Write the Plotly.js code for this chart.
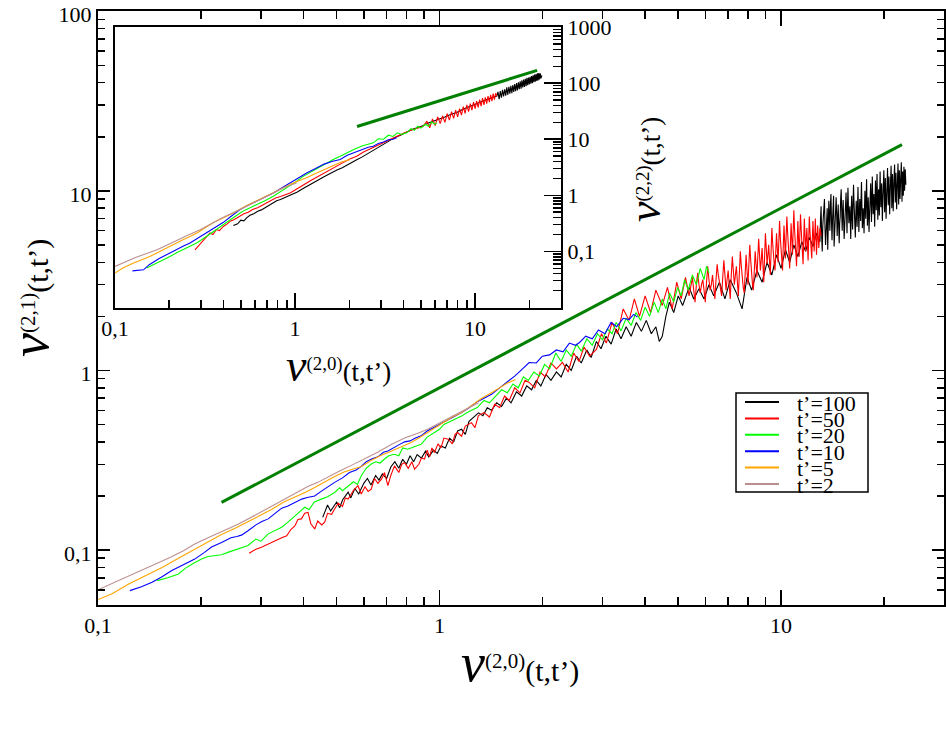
<!DOCTYPE html>
<html><head><meta charset="utf-8">
<script src="https://cdn.plot.ly/plotly-3.0.1.min.js"></script>
<style>html,body{margin:0;padding:0;background:#fff}#plot{width:946px;height:735px}</style>
</head><body><div id="plot"></div>
<script>
// ---------------- DATA ----------------
const LABELS = ["t’=100","t’=50","t’=20","t’=10","t’=5","t’=2"];
const COLORS = ["#000000","#ff0000","#00ff00","#0000ff","#ffa500","#bc8f8f"];
const FIT_COLOR = "#008000";

const XTICKS = [0.1,1,10];
const XTICKTEXT = ["0,1","1","10"];
const XMINOR = [0.2,0.3,0.4,0.5,0.6,0.7,0.8,0.9,2,3,4,5,6,7,8,9,20];
const YTICKS_MAIN = [0.1,1,10,100];
const YTICKTEXT_MAIN = ["0,1","1","10","100"];
const YMINOR_MAIN = [0.06,0.07,0.08,0.09,0.2,0.3,0.4,0.5,0.6,0.7,0.8,0.9,2,3,4,5,6,7,8,9,20,30,40,50,60,70,80,90];
const YTICKS_INSET = [0.1,1,10,100,1000];
const YTICKTEXT_INSET = ["0,1","1","10","100","1000"];
const YMINOR_INSET = [0.02,0.03,0.04,0.05,0.06,0.07,0.08,0.09,0.2,0.3,0.4,0.5,0.6,0.7,0.8,0.9,2,3,4,5,6,7,8,9,20,30,40,50,60,70,80,90,200,300,400,500,600,700,800,900];

// main panel: V(2,1) vs V(2,0)
const main_t100 = [[0.455,0.152],[0.47,0.178],[0.48,0.165],[0.50,0.185],[0.51,0.172],[0.52,0.19],[0.54,0.21],[0.55,0.195],[0.565,0.22],[0.58,0.205],[0.60,0.235],[0.615,0.25],[0.63,0.23],[0.65,0.26],[0.665,0.245],[0.68,0.265],[0.70,0.25],[0.72,0.29],[0.74,0.31],[0.76,0.285],[0.78,0.32],[0.80,0.30],[0.82,0.335],[0.84,0.31],[0.86,0.34],[0.885,0.325],[0.91,0.355],[0.93,0.33],[0.96,0.36],[0.985,0.345],[1.01,0.38],[1.04,0.37],[1.07,0.42],[1.10,0.40],[1.13,0.46],[1.16,0.47],[1.19,0.44],[1.22,0.52],[1.26,0.55],[1.30,0.58],[1.34,0.56],[1.38,0.62],[1.42,0.60],[1.47,0.66],[1.52,0.63],[1.57,0.70],[1.62,0.66],[1.68,0.76],[1.74,0.72],[1.80,0.82],[1.86,0.78],[1.92,0.88],[1.98,0.82],[2.05,0.95],[2.12,0.88],[2.20,0.98],[2.27,0.92],[2.35,1.08],[2.43,1.0],[2.52,1.2],[2.60,1.1],[2.70,1.3],[2.78,1.18],[2.88,1.45],[2.97,1.32],[3.07,1.55],[3.18,1.4],[3.29,1.7],[3.40,1.5],[3.52,1.75],[3.64,1.55],[3.77,1.85],[3.90,1.65],[4.03,1.9],[4.17,1.6],[4.30,1.75],[4.40,1.45],[4.49,1.55],[4.6,2.0],[4.71,2.4],[4.85,2.1],[5.0,2.6],[5.15,2.3],[5.38,2.9],[5.55,2.5],[5.75,2.85],[5.95,2.5],[6.15,3.0],[6.35,2.6],[6.6,3.1],[6.85,2.5],[7.1,3.2],[7.4,2.7],[7.69,2.2],[7.95,3.3],[8.2,2.8],[8.5,3.6],[8.8,3.1],[9.1,4.0],[9.4,3.4],[9.7,4.4],[10.0,3.7],[10.3,4.7],[10.6,4.0],[10.9,5.0],[11.2,4.3],[11.5,5.2],[11.8,4.6],[12.1,5.5],[12.4,4.9],[12.7,5.8],
[13.0,5.2],[13.05,7.0],[13.1,8.2],[13.15,5.6],[13.2,4.6],[13.25,6.4],[13.3,7.6],[13.35,8.6],[13.4,9.0],[13.45,6.2],[13.5,5.0],[13.55,5.8],[13.6,6.8],[13.65,8.0],[13.7,4.7],[13.75,6.9],[13.8,8.8],[13.85,7.2],[13.9,6.0],[13.95,8.4],
[14.0,9.6],[14.05,6.8],[14.1,5.3],[14.15,6.9],[14.2,7.9],[14.25,9.4],[14.3,4.9],[14.35,5.9],[14.4,6.5],[14.45,8.0],[14.5,9.2],[14.55,7.4],[14.6,5.6],[14.65,7.0],[14.7,8.4],[14.75,6.3],[14.8,5.1],[14.85,6.6],[14.9,7.2],[14.95,9.1],
[15.0,10.2],[15.05,7.9],[15.1,6.0],[15.15,7.5],[15.2,8.9],[15.25,6.9],[15.3,5.4],[15.35,6.2],[15.4,7.0],[15.45,8.6],[15.5,9.8],[15.55,7.6],[15.6,5.8],[15.65,8.2],[15.7,10.4],[15.75,8.0],[15.8,6.6],[15.85,7.4],[15.9,8.2],[15.95,6.5],
[16.0,5.4],[16.05,7.8],[16.1,9.4],[16.15,7.0],[16.2,6.1],[16.25,8.6],[16.3,10.8],[16.35,8.8],[16.4,7.2],[16.45,6.2],[16.5,5.5],[16.55,7.2],[16.6,8.8],[16.65,7.4],[16.7,6.3],[16.75,8.4],[16.8,10.5],[16.85,7.6],[16.9,5.9],[16.95,7.5],
[17.0,9.0],[17.05,7.8],[17.1,6.8],[17.15,9.0],[17.2,11.2],[17.25,8.3],[17.3,6.2],[17.35,7.0],[17.4,8.0],[17.45,6.8],[17.5,5.8],[17.55,7.8],[17.6,10.0],[17.65,8.2],[17.7,7.0],[17.75,9.3],[17.8,11.6],[17.85,8.6],[17.9,6.4],[17.95,7.7],
[18.0,9.2],[18.05,7.2],[18.1,5.9],[18.15,7.1],[18.2,8.5],[18.25,9.9],[18.3,11.0],[18.35,8.5],[18.4,6.7],[18.45,9.2],[18.5,12.0],[18.55,9.4],[18.6,7.4],[18.65,8.4],[18.7,9.6],[18.75,7.8],[18.8,6.3],[18.85,8.8],[18.9,11.4],[18.95,9.4],
[19.0,7.8],[19.05,10.0],[19.1,12.4],[19.15,9.2],[19.2,6.9],[19.25,8.4],[19.3,10.2],[19.35,8.6],[19.4,7.3],[19.45,10.0],[19.5,12.8],[19.55,10.2],[19.6,8.1],[19.65,9.6],[19.7,11.0],[19.75,8.8],[19.8,6.8],[19.85,8.3],[19.9,10.0],[19.95,11.6],
[20.0,13.0],[20.05,10.0],[20.1,7.6],[20.15,9.6],[20.2,11.8],[20.25,9.2],[20.3,7.0],[20.35,8.4],[20.4,9.8],[20.45,11.8],[20.5,13.4],[20.55,10.6],[20.6,8.3],[20.65,10.2],[20.7,12.0],[20.75,9.6],[20.8,7.4],[20.85,9.0],[20.9,10.6],[20.95,12.4],
[21.0,13.8],[21.05,10.8],[21.1,8.0],[21.15,10.2],[21.2,12.4],[21.25,9.8],[21.3,7.7],[21.35,9.4],[21.4,11.0],[21.45,12.6],[21.5,14.0],[21.55,11.2],[21.6,8.6],[21.65,10.6],[21.7,12.6],[21.75,10.0],[21.8,7.9],[21.85,9.2],[21.9,10.8],[21.95,12.6],
[22.0,14.2],[22.05,11.0],[22.1,8.4],[22.15,10.6],[22.2,13.0],[22.25,11.0],[22.3,9.0],[22.35,10.2],[22.4,11.6],[22.45,13.0],[22.5,14.4],[22.55,11.4],[22.6,8.7],[22.65,10.8],[22.7,12.8],[22.75,11.0],[22.8,9.4],[22.85,11.4],[22.9,13.6],[22.95,11.8],
[23.0,10.0],[23.05,11.6],[23.1,13.2],[23.15,12.0],[23.2,10.8]];
const main_t50 = [[0.277,0.096],[0.29,0.101],[0.301,0.1035],[0.315,0.108],[0.33,0.113],[0.345,0.117],[0.357,0.12],[0.367,0.13],[0.377,0.136],[0.385,0.148],[0.394,0.149],[0.403,0.16],[0.412,0.162],[0.42,0.14],[0.431,0.131],[0.44,0.145],[0.452,0.138],[0.461,0.143],[0.47,0.16],[0.483,0.158],[0.493,0.169],[0.505,0.182],[0.52,0.175],[0.53,0.195],[0.54,0.192],[0.56,0.215],[0.577,0.228],[0.59,0.205],[0.605,0.225],[0.618,0.212],[0.631,0.218],[0.645,0.25],[0.66,0.235],[0.676,0.248],[0.69,0.27],[0.706,0.228],[0.72,0.26],[0.738,0.294],[0.76,0.27],[0.775,0.3],[0.79,0.307],[0.81,0.285],[0.83,0.31],[0.845,0.282],[0.87,0.3],[0.885,0.325],[0.904,0.321],[0.92,0.36],[0.935,0.33],[0.95,0.37],[0.966,0.349],[0.99,0.39],[1.01,0.37],[1.03,0.42],[1.06,0.414],[1.09,0.39],[1.11,0.44],[1.13,0.451],[1.16,0.43],[1.19,0.49],[1.24,0.512],[1.27,0.48],[1.3,0.56],[1.35,0.582],[1.4,0.55],[1.45,0.647],[1.5,0.62],[1.55,0.72],[1.6,0.68],[1.66,0.8],[1.72,0.75],[1.78,0.88],[1.83,0.857],[1.9,0.8],[1.97,0.98],[2.04,0.92],[2.12,1.1],[2.2,1.02],[2.29,1.107],[2.38,0.98],[2.47,1.25],[2.56,1.12],[2.65,1.35],[2.75,1.2],[2.88,1.31],[2.98,1.6],[3.08,1.42],[3.2,1.85],[3.32,1.6],[3.45,2.2],[3.59,1.9],[3.72,2.5],[3.85,2.0],[4.0,2.6],[4.15,2.1],[4.3,2.8],[4.49,2.3],[4.65,2.9],[4.8,2.2],[4.95,3.1],[5.1,2.5],[5.25,3.3],[5.38,2.6],
[5.5,3.3],[5.55,2.8],[5.6,2.4],[5.65,3.0],[5.7,3.5],[5.75,3.0],[5.8,2.7],[5.85,3.0],[5.9,3.2],[5.95,2.8],[6.0,2.4],[6.05,3.1],[6.1,3.8],[6.15,3.2],[6.2,2.8],[6.25,3.0],[6.3,3.4],[6.35,2.9],[6.4,2.5],[6.45,3.2],
[6.5,3.9],[6.55,3.4],[6.6,3.1],[6.65,2.8],[6.7,2.6],[6.75,3.3],[6.8,4.1],[6.85,3.4],[6.9,2.8],[6.95,3.2],[7.0,3.6],[7.05,3.0],[7.1,2.5],[7.15,3.4],[7.2,4.3],[7.25,3.6],[7.3,3.0],[7.35,3.4],[7.4,3.8],[7.45,3.1],
[7.5,2.6],[7.55,3.5],[7.6,4.6],[7.65,3.8],[7.7,3.2],[7.75,2.9],[7.8,2.7],[7.85,3.5],[7.9,4.4],[7.95,3.6],[8.0,3.0],[8.05,3.9],[8.1,5.0],[8.15,4.1],[8.2,3.4],[8.25,3.0],[8.3,2.8],[8.35,3.6],[8.4,4.6],[8.45,3.9],
[8.5,3.3],[8.55,4.3],[8.6,5.4],[8.65,4.4],[8.7,3.6],[8.75,4.1],[8.8,4.8],[8.85,3.9],[8.9,3.1],[8.95,4.3],[9.0,5.8],[9.05,4.8],[9.1,3.9],[9.15,4.4],[9.2,5.0],[9.25,4.1],[9.3,3.4],[9.35,4.6],[9.4,6.2],[9.45,5.1],
[9.5,4.2],[9.55,3.9],[9.6,3.6],[9.65,4.6],[9.7,5.8],[9.75,4.8],[9.8,4.0],[9.85,5.2],[9.9,6.8],[9.95,5.5],[10.0,4.5],[10.05,4.0],[10.1,3.6],[10.15,4.9],[10.2,6.4],[10.25,5.2],[10.3,4.2],[10.35,5.6],[10.4,7.2],[10.45,5.9],
[10.5,4.8],[10.55,4.2],[10.6,3.7],[10.65,5.0],[10.7,6.6],[10.75,5.4],[10.8,4.4],[10.85,5.9],[10.9,7.8],[10.95,6.2],[11.0,5.0],[11.05,4.3],[11.1,3.8],[11.15,5.1],[11.2,6.8],[11.25,5.4],[11.3,4.3],[11.35,5.7],[11.4,7.4],[11.45,6.2],
[11.5,5.2],[11.55,4.5],[11.6,3.9],[11.65,5.3],[11.7,7.0],[11.75,5.7],[11.8,4.6],[11.85,5.4],[11.9,6.2],[11.95,5.0],[12.0,4.1],[12.05,5.4],[12.1,7.2],[12.15,6.0],[12.2,5.0],[12.25,4.6],[12.3,4.2],[12.35,5.4],[12.4,6.8],[12.45,5.6],
[12.5,4.6],[12.55,5.6],[12.6,7.0],[12.65,5.6],[12.7,4.4],[12.75,5.3],[12.8,6.4],[12.85,5.5],[12.9,4.8],[12.95,5.5],[13.0,6.2],[13.05,5.9],[13.1,5.6]];
const main_t20 = [[0.149,0.0675],[0.16,0.070],[0.172,0.0736],[0.18,0.079],[0.19,0.084],[0.201,0.089],[0.21,0.092],[0.22,0.093],[0.23,0.094],[0.24,0.097],[0.255,0.101],[0.265,0.104],[0.275,0.106],[0.29,0.115],[0.3,0.112],[0.315,0.123],[0.33,0.128],[0.345,0.134],[0.36,0.143],[0.377,0.155],[0.39,0.165],[0.403,0.173],[0.415,0.168],[0.43,0.185],[0.451,0.192],[0.47,0.198],[0.493,0.209],[0.51,0.222],[0.52,0.214],[0.54,0.228],[0.56,0.24],[0.575,0.232],[0.59,0.259],[0.61,0.285],[0.631,0.301],[0.65,0.31],[0.67,0.305],[0.69,0.321],[0.71,0.335],[0.738,0.341],[0.76,0.335],[0.78,0.37],[0.807,0.364],[0.84,0.375],[0.883,0.388],[0.92,0.425],[0.966,0.451],[1.0,0.47],[1.03,0.5],[1.06,0.512],[1.1,0.53],[1.16,0.557],[1.22,0.59],[1.29,0.621],[1.35,0.68],[1.4,0.66],[1.46,0.72],[1.52,0.78],[1.58,0.75],[1.64,0.84],[1.7,0.8],[1.76,0.92],[1.82,0.88],[1.89,0.98],[1.96,0.93],[2.03,1.08],[2.1,1.02],[2.19,1.25],[2.27,1.12],[2.35,1.3],[2.43,1.2],[2.52,1.4],[2.6,1.28],[2.7,1.5],[2.8,1.38],[2.9,1.6],[3.0,1.48],[3.1,1.7],[3.2,1.6],[3.29,1.85],[3.4,1.66],[3.52,1.95],[3.64,1.78],[3.76,2.1],[3.88,1.9],[4.0,2.25],[4.12,2.0],[4.25,2.4],[4.37,2.1],[4.49,2.5],[4.6,2.2],[4.72,2.7],[4.85,2.4],[4.98,2.9],[5.1,2.6],[5.22,3.2],[5.35,2.8],[5.5,3.4],[5.65,3.0],[5.8,3.7],[5.95,3.2],[6.05,3.8],[6.15,3.49]];
const main_t10 = [[0.124,0.0594],[0.134,0.0625],[0.144,0.0662],[0.154,0.071],[0.164,0.0767],[0.178,0.083],[0.192,0.089],[0.205,0.097],[0.215,0.104],[0.23,0.110],[0.245,0.117],[0.255,0.119],[0.263,0.121],[0.275,0.128],[0.29,0.138],[0.302,0.144],[0.315,0.149],[0.33,0.160],[0.345,0.171],[0.36,0.176],[0.377,0.184],[0.395,0.192],[0.41,0.196],[0.431,0.200],[0.45,0.212],[0.47,0.225],[0.493,0.238],[0.52,0.252],[0.545,0.27],[0.57,0.279],[0.59,0.292],[0.61,0.31],[0.635,0.322],[0.66,0.33],[0.685,0.35],[0.706,0.356],[0.73,0.37],[0.76,0.385],[0.79,0.40],[0.82,0.405],[0.85,0.42],[0.883,0.432],[0.92,0.46],[0.96,0.48],[1.0,0.505],[1.05,0.53],[1.1,0.555],[1.16,0.582],[1.22,0.62],[1.29,0.67],[1.35,0.7],[1.42,0.736],[1.5,0.8],[1.58,0.86],[1.66,0.93],[1.75,1.02],[1.83,1.107],[1.92,1.1],[2.0,1.2],[2.1,1.22],[2.2,1.3],[2.3,1.27],[2.4,1.42],[2.5,1.38],[2.57,1.43],[2.68,1.55],[2.8,1.5],[2.92,1.68],[3.05,1.6],[3.18,1.85],[3.3,1.75],[3.45,1.95],[3.59,1.92],[3.7,2.05],[3.8,1.98]];
const main_t5 = [[0.1,0.053],[0.11,0.057],[0.123,0.0647],[0.138,0.072],[0.154,0.080],[0.172,0.090],[0.192,0.101],[0.21,0.111],[0.23,0.122],[0.252,0.132],[0.27,0.141],[0.295,0.155],[0.322,0.168],[0.35,0.185],[0.38,0.198],[0.405,0.21],[0.431,0.223],[0.46,0.24],[0.49,0.255],[0.525,0.272],[0.56,0.284],[0.591,0.292],[0.63,0.315],[0.67,0.335],[0.71,0.35],[0.75,0.365],[0.79,0.38],[0.826,0.397],[0.87,0.42],[0.92,0.45],[0.97,0.48],[1.02,0.51],[1.08,0.545],[1.16,0.582],[1.24,0.64],[1.33,0.7],[1.42,0.751],[1.5,0.8],[1.58,0.85],[1.67,0.891]];
const main_t2 = [[0.1,0.060],[0.112,0.066],[0.123,0.072],[0.134,0.0767],[0.148,0.084],[0.163,0.091],[0.178,0.099],[0.192,0.108],[0.21,0.117],[0.232,0.128],[0.257,0.139],[0.29,0.157],[0.33,0.180],[0.37,0.204],[0.41,0.225],[0.44,0.238],[0.471,0.255],[0.51,0.275],[0.55,0.295],[0.6,0.32],[0.659,0.350],[0.72,0.385],[0.79,0.42],[0.86,0.445],[0.923,0.470],[1.0,0.51],[1.08,0.55],[1.16,0.585],[1.25,0.635],[1.3,0.66]];
const main_fit = [[0.23,0.184],[22.6,18.1]];

// inset: V(2,2) vs V(2,0)
const inset_t100 = [[0.454,0.29],[0.48,0.31],[0.50,0.36],[0.52,0.35],[0.54,0.40],[0.562,0.44],[0.59,0.47],[0.62,0.52],[0.65,0.55],[0.68,0.60],[0.71,0.66],[0.74,0.72],[0.757,0.75],[0.79,0.80],[0.83,0.84],[0.87,0.90],[0.91,0.94],[0.938,0.98],[0.98,1.08],[1.03,1.15],[1.09,1.28],[1.15,1.42],[1.22,1.56],[1.3,1.75],[1.37,1.95],[1.44,2.12],[1.53,2.35],[1.62,2.6],[1.72,2.85],[1.83,3.1],[1.95,3.5],[2.07,3.8],[2.2,4.3],[2.35,4.8],[2.5,5.4],[2.68,6.2],[2.87,7.0],[3.07,8.0],[3.37,9.6],[3.6,10.8],[3.9,12.0],[4.2,13.6],[4.5,15.0],[4.85,16.4],[5.16,17.5],[5.5,19.5],[5.9,21],[6.3,23],[6.8,25],[7.3,27.5],[7.91,30],[8.5,34],[9.2,38],[10.0,42],[10.8,47],[11.6,51],[12.4,55],[13.2,59],
[13.4,70],[13.6,52],[13.8,72],[14.0,55],[14.2,76],[14.4,58],[14.6,78],[14.8,60],[15.0,84],[15.2,62],[15.4,86],[15.6,65],[15.8,90],[16.0,66],[16.2,92],[16.4,70],[16.6,96],[16.8,72],[17.0,100],[17.2,74],[17.4,104],[17.6,78],[17.8,108],[18.0,80],[18.2,112],[18.4,84],[18.6,116],[18.8,86],[19.0,120],[19.2,88],[19.4,124],[19.6,92],[19.8,126],[20.0,95],[20.2,130],[20.4,98],[20.6,134],[20.8,100],[21.0,138],[21.2,104],[21.4,142],[21.6,106],[21.8,146],[22.0,110],[22.2,150],[22.4,112],[22.6,152],[22.8,116],[23.0,150],[23.2,122],[23.5,138]];
const inset_t50 = [[0.278,0.107],[0.29,0.125],[0.30,0.14],[0.315,0.17],[0.337,0.213],[0.35,0.2],[0.365,0.245],[0.38,0.235],[0.40,0.279],[0.42,0.31],[0.44,0.35],[0.46,0.37],[0.495,0.421],[0.52,0.47],[0.55,0.5],[0.58,0.56],[0.62,0.6],[0.667,0.683],[0.70,0.74],[0.74,0.82],[0.78,0.9],[0.83,0.95],[0.88,1.02],[0.938,1.10],[0.99,1.22],[1.05,1.38],[1.1,1.5],[1.16,1.66],[1.23,1.85],[1.3,2.05],[1.38,2.3],[1.46,2.55],[1.56,2.88],[1.66,3.2],[1.77,3.6],[1.88,3.95],[2.0,4.4],[2.2,4.97],[2.4,5.9],[2.6,6.6],[2.8,7.5],[3.05,8.5],[3.37,9.9],[3.7,11.5],[4.0,12.8],[4.4,14.5],[4.8,16],[5.16,17.1],
[5.4,21],[5.6,16],[5.8,23],[6.0,17.5],[6.2,25],[6.4,19],[6.6,26],[6.8,20],[7.0,28.5],[7.2,22],[7.4,31],[7.6,23.5],[7.8,33],[8.0,25],[8.2,35],[8.4,27],[8.6,38],[8.8,29],[9.0,41],[9.2,31],[9.4,43],[9.6,33],[9.8,46],[10.0,35],[10.2,48],[10.4,37],[10.6,51],[10.8,39],[11.0,54],[11.2,41],[11.4,56],[11.6,43],[11.8,59],[12.0,46],[12.2,62],[12.4,48],[12.6,65],[12.8,51],[13.0,66],[13.2,58]];
const inset_t20 = [[0.150,0.0506],[0.16,0.056],[0.175,0.063],[0.19,0.072],[0.202,0.081],[0.22,0.095],[0.24,0.108],[0.26,0.122],[0.284,0.141],[0.31,0.17],[0.34,0.21],[0.37,0.25],[0.40,0.30],[0.43,0.36],[0.46,0.41],[0.495,0.485],[0.53,0.55],[0.57,0.61],[0.62,0.7],[0.68,0.8],[0.757,0.96],[0.83,1.15],[0.91,1.4],[1.0,1.7],[1.11,2.18],[1.22,2.6],[1.35,3.1],[1.5,3.8],[1.64,4.4],[1.78,4.97],[1.95,5.8],[2.15,6.7],[2.35,7.6],[2.55,8.2],[2.72,8.63],[2.9,10.2],[3.1,10.0],[3.3,11.8],[3.5,11.2],[3.7,13.0],[3.9,12.2],[4.18,13.0],[4.4,15.5],[4.6,14.4],[4.8,17],[5.0,15.8],[5.3,18.5],[5.5,17],[5.75,20.5],[5.95,18.5],[6.12,19.6]];
const inset_t10 = [[0.125,0.045],[0.144,0.047],[0.155,0.058],[0.165,0.067],[0.175,0.074],[0.185,0.081],[0.2,0.093],[0.22,0.11],[0.24,0.125],[0.261,0.141],[0.29,0.175],[0.32,0.21],[0.345,0.245],[0.367,0.279],[0.4,0.33],[0.44,0.42],[0.495,0.556],[0.55,0.67],[0.62,0.82],[0.69,0.95],[0.757,1.10],[0.85,1.38],[0.95,1.7],[1.05,2.05],[1.16,2.51],[1.3,3.0],[1.45,3.6],[1.6,4.0],[1.78,4.35],[1.95,5.2],[2.15,5.9],[2.35,6.6],[2.55,7.2],[2.72,7.5],[2.9,8.4],[3.1,8.9],[3.3,9.8],[3.5,10.0],[3.67,10.6]];
const inset_t5 = [[0.1,0.041],[0.11,0.05],[0.125,0.061],[0.14,0.071],[0.156,0.081],[0.175,0.098],[0.195,0.118],[0.22,0.142],[0.24,0.163],[0.261,0.185],[0.29,0.22],[0.32,0.27],[0.355,0.33],[0.4,0.4],[0.454,0.485],[0.52,0.62],[0.6,0.78],[0.68,0.94],[0.757,1.10],[0.85,1.32],[0.95,1.6],[1.05,1.82],[1.16,2.05],[1.3,2.45],[1.45,2.9],[1.6,3.3],[1.8,3.9],[2.02,4.35]];
const inset_t2 = [[0.1,0.054],[0.115,0.066],[0.13,0.078],[0.15,0.092],[0.171,0.107],[0.195,0.13],[0.22,0.158],[0.25,0.19],[0.297,0.244],[0.34,0.31],[0.39,0.39],[0.44,0.47],[0.495,0.556],[0.56,0.68],[0.63,0.82],[0.70,0.98],[0.757,1.1],[0.85,1.32],[0.93,1.5],[1.02,1.66]];
const inset_fit = [[2.21,16.9],[22.1,169]];

const X_RANGE = [0.1, 30];
const Y_RANGE_MAIN = [0.0494, 100.3];
const Y_RANGE_INSET = [0.01, 1003];

// ---------------- LAYOUT ----------------
const FONT = "Liberation Serif";
const L=98, R=944, T=11, B=605;
const px = v => (v-L)/(R-L);
const py = v => (B-v)/(B-T);

const mainSets = [main_t100, main_t50, main_t20, main_t10, main_t5, main_t2];
const insetSets = [inset_t100, inset_t50, inset_t20, inset_t10, inset_t5, inset_t2];
const traces = [];
mainSets.forEach((d,i)=>traces.push({x:d.map(p=>p[0]), y:d.map(p=>p[1]), mode:'lines', name:LABELS[i],
  line:{color:COLORS[i], width:1.1}, xaxis:'x', yaxis:'y', showlegend:false, hoverinfo:'skip'}));
traces.push({x:main_fit.map(p=>p[0]), y:main_fit.map(p=>p[1]), mode:'lines', line:{color:FIT_COLOR,width:3}, xaxis:'x', yaxis:'y', showlegend:false, hoverinfo:'skip'});
insetSets.forEach((d,i)=>traces.push({x:d.map(p=>p[0]), y:d.map(p=>p[1]), mode:'lines', name:LABELS[i],
  line:{color:COLORS[i], width:1.1}, xaxis:'x2', yaxis:'y2', showlegend:false, hoverinfo:'skip'}));
traces.push({x:inset_fit.map(p=>p[0]), y:inset_fit.map(p=>p[1]), mode:'lines', line:{color:FIT_COLOR,width:3}, xaxis:'x2', yaxis:'y2', showlegend:false, hoverinfo:'skip'});

const tf = {family:FONT, size:22, color:'black'};
const lg = r => r.map(Math.log10);
function axis(o){
  return Object.assign({type:'log', showgrid:false, zeroline:false, showline:true, linecolor:'black', linewidth:2,
    ticks:'inside', tickcolor:'black', tickwidth:1.5, tickfont:tf, tickmode:'array', fixedrange:true, ticklabeloverflow:'allow'}, o);
}
const layout = {
  width:946, height:735, margin:{l:L, r:946-R, t:T, b:735-B},
  paper_bgcolor:'white', plot_bgcolor:'white', showlegend:false,
  font:{family:FONT, color:'black'},
  xaxis: axis({range:lg(X_RANGE), tickvals:XTICKS, ticktext:XTICKTEXT, ticklen:15, mirror:'allticks',
    minor:{tickmode:'array', tickvals:XMINOR, ticks:'inside', ticklen:8, tickwidth:1.5, tickcolor:'black', showgrid:false}}),
  yaxis: axis({range:lg(Y_RANGE_MAIN), tickvals:YTICKS_MAIN, ticktext:YTICKTEXT_MAIN, ticklen:12, mirror:'allticks', ticklabelshift:3,
    minor:{tickmode:'array', tickvals:YMINOR_MAIN, ticks:'inside', ticklen:7, tickwidth:1.5, tickcolor:'black', showgrid:false}}),
  xaxis2: axis({range:lg(X_RANGE), domain:[px(115), px(561)], anchor:'y2', tickvals:XTICKS, ticktext:XTICKTEXT, ticklen:15, mirror:true,
    minor:{tickmode:'array', tickvals:XMINOR, ticks:'inside', ticklen:8, tickwidth:1.5, tickcolor:'black', showgrid:false}}),
  yaxis2: axis({range:lg(Y_RANGE_INSET), domain:[py(307.5), py(27)], anchor:'x2', side:'right', tickvals:YTICKS_INSET, ticktext:YTICKTEXT_INSET, ticklen:17, mirror:true,
    minor:{tickmode:'array', tickvals:YMINOR_INSET, ticks:'inside', ticklen:8, tickwidth:1.5, tickcolor:'black', showgrid:false}}),
  shapes:[], annotations:[]
};

// axis titles
const nu = (sup, big) => `<span style="font-size:${big}px"><i>ν</i></span><sup>${sup}</sup>(t,t’)`;
layout.annotations.push({xref:'paper', yref:'paper', x:px(520), y:py(663), text:nu('(2,0)',54), showarrow:false, font:{family:FONT,size:30,color:'black'}, xanchor:'center', yanchor:'middle'});
layout.annotations.push({xref:'paper', yref:'paper', x:px(30), y:py(298), text:nu('(2,1)',54), showarrow:false, textangle:-90, font:{family:FONT,size:30,color:'black'}, xanchor:'center', yanchor:'middle'});
layout.annotations.push({xref:'paper', yref:'paper', x:px(338), y:py(365), text:nu('(2,0)',46), showarrow:false, font:{family:FONT,size:27,color:'black'}, xanchor:'center', yanchor:'middle'});
layout.annotations.push({xref:'paper', yref:'paper', x:px(645), y:py(170), text:nu('(2,2)',46), showarrow:false, textangle:-90, font:{family:FONT,size:27,color:'black'}, xanchor:'center', yanchor:'middle'});

// legend box
layout.shapes.push({type:'rect', xref:'paper', yref:'paper', x0:px(736), x1:px(868), y0:py(393), y1:py(492), line:{color:'black', width:1.5}, fillcolor:'white', layer:'above'});
LABELS.forEach((lab,i)=>{
  const yy = 402 + i*16.4;
  layout.shapes.push({type:'line', xref:'paper', yref:'paper', x0:px(745), x1:px(779), y0:py(yy), y1:py(yy), line:{color:COLORS[i], width:2}, layer:'above'});
  layout.annotations.push({xref:'paper', yref:'paper', x:px(795), y:py(yy+1), text:lab, showarrow:false, xanchor:'left', yanchor:'middle', font:{family:FONT,size:22,color:'black'}});
});

Plotly.newPlot('plot', traces, layout, {staticPlot:true, displayModeBar:false});
</script></body></html>
